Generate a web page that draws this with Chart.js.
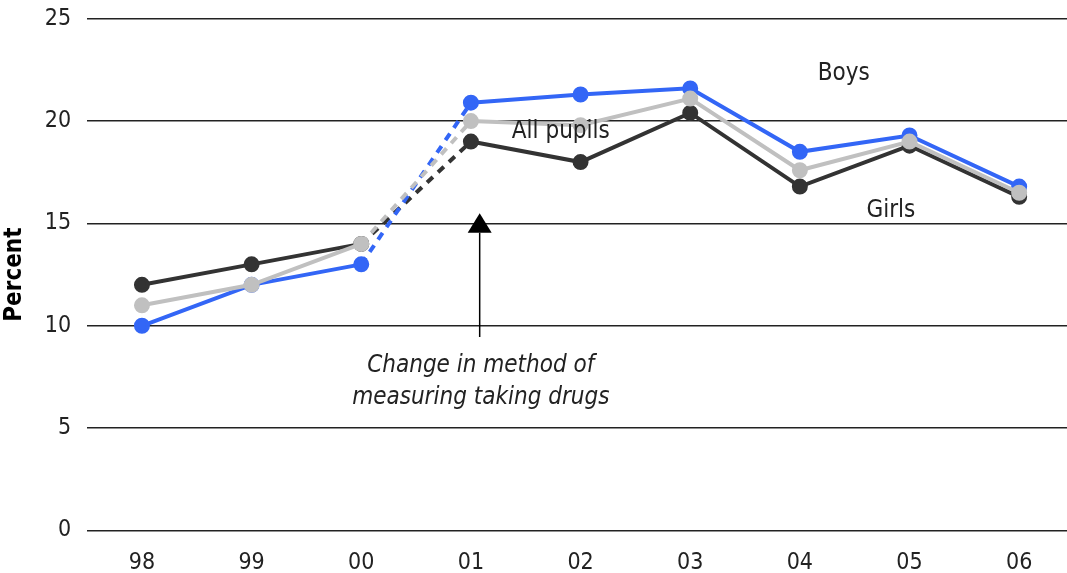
<!DOCTYPE html>
<html>
<head>
<meta charset="utf-8">
<script src="https://cdn.jsdelivr.net/npm/chart.js@4/dist/chart.umd.min.js"></script>
<style>
  html, body { margin: 0; padding: 0; background: #fff; overflow: hidden; }
  #drugs-chart { display: block; margin-top: -11px; }
</style>
</head>
<body>
<canvas id="drugs-chart"></canvas>
<script>
// years on the x axis
const years = ["98", "99", "00", "01", "02", "03", "04", "05", "06"];

// percent per year
const boys = [10, 12, 13, 20.9, 21.3, 21.6, 18.5, 19.3, 16.8];
const allPupils = [11, 12, 14, 20, 19.8, 21.1, 17.6, 19, 16.5];
const girls = [12, 13, 14, 19, 18, 20.4, 16.8, 18.8, 16.3];

const yTicks = [0, 5, 10, 15, 20, 25];

const canvas = document.querySelector("#drugs-chart");
canvas.width = 1084;
canvas.height = 607;
const ctx = canvas.getContext("2d");

const fontFam = "'DejaVu Sans Condensed', 'DejaVu Sans', sans-serif";

// the step 00 -> 01 is drawn dashed (method changed)
const dashedStep = (c) => (c.p0DataIndex === 2 ? [8, 7] : undefined);

const makeSet = (label, data, colour, order) => ({
  label: label,
  data: data,
  borderColor: colour,
  backgroundColor: colour,
  pointBackgroundColor: colour,
  pointBorderColor: colour,
  borderWidth: 4,
  pointRadius: 6,
  pointHoverRadius: 6,
  tension: 0,
  order: order,
  segment: { borderDash: dashedStep },
});

// text labels and the arrow, placed in data coordinates
const notesPlugin = {
  id: "notes",
  afterDatasetsDraw(chart) {
    const x = chart.scales.x;
    const y = chart.scales.y;
    const c = chart.ctx;
    c.save();
    c.fillStyle = "#222";
    c.textAlign = "center";
    c.textBaseline = "middle";

    c.font = "24px " + fontFam;
    c.fillText("Boys", x.getPixelForValue(6.4), y.getPixelForValue(22.3));
    c.fillText("All pupils", x.getPixelForValue(3.82), y.getPixelForValue(19.5));
    c.fillText("Girls", x.getPixelForValue(6.83), y.getPixelForValue(15.6));

    c.font = "italic 24px " + fontFam;
    c.fillText("Change in method of", x.getPixelForValue(3.09), y.getPixelForValue(8.05));
    c.fillText("measuring taking drugs", x.getPixelForValue(3.09), y.getPixelForValue(6.5));

    // arrow
    const ax = x.getPixelForValue(3.08);
    const tail = y.getPixelForValue(9.45);
    const base = y.getPixelForValue(14.55);
    const tip = y.getPixelForValue(15.5);
    c.strokeStyle = "#000";
    c.lineWidth = 1.5;
    c.beginPath();
    c.moveTo(ax, tail);
    c.lineTo(ax, base);
    c.stroke();
    c.fillStyle = "#000";
    c.beginPath();
    c.moveTo(ax, tip);
    c.lineTo(ax - 12, base);
    c.lineTo(ax + 12, base);
    c.closePath();
    c.fill();
    c.restore();
  },
};

new Chart(ctx, {
  type: "line",
  data: {
    labels: years,
    datasets: [
      makeSet("Girls", girls, "#333333", 3),
      makeSet("Boys", boys, "#3366f6", 2),
      makeSet("All pupils", allPupils, "#c0c0c0", 1),
    ],
  },
  options: {
    responsive: false,
    animation: false,
    devicePixelRatio: 1,
    layout: { padding: { top: 5, right: 0, bottom: 0, left: 0 } },
    plugins: {
      legend: { display: false },
      tooltip: { enabled: false },
    },
    scales: {
      x: {
        offset: true,
        grid: { display: false, drawTicks: false },
        border: { display: false },
        ticks: {
          color: "#222",
          font: { family: fontFam, size: 23 },
          padding: 19,
          maxRotation: 0,
        },
      },
      y: {
        min: 0,
        max: 25,
        afterBuildTicks: (axis) => {
          axis.ticks = yTicks.map((v) => ({ value: v }));
        },
        grid: { color: "#222", lineWidth: 1.5, drawTicks: false },
        border: { display: false },
        ticks: {
          color: "#222",
          font: { family: fontFam, size: 23 },
          padding: 16,
        },
        title: {
          display: true,
          text: "Percent",
          color: "#000",
          font: { family: fontFam, size: 24, weight: "bold" },
          padding: { top: 0, bottom: 0 },
        },
      },
    },
  },
  plugins: [notesPlugin],
});
</script>
</body>
</html>
